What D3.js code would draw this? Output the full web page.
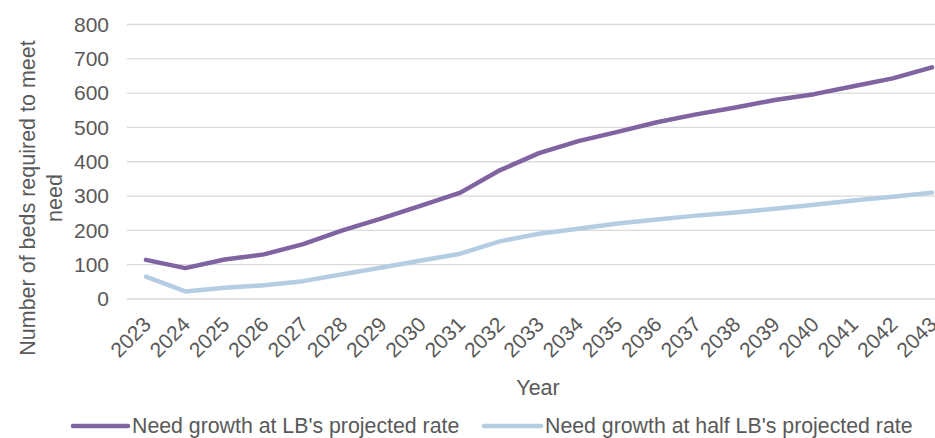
<!doctype html>
<html>
  <head>
    <script src="https://cdnjs.cloudflare.com/ajax/libs/d3/7.8.5/d3.min.js"></script>
    <style>
      body { margin: 0; background: #fff; }
      svg { font-family: "Liberation Sans", Arial, sans-serif; }
      .grid line { stroke: #d9d9d9; stroke-width: 1.3; }
      .tick text { fill: #595959; font-size: 21px; }
      text.title { fill: #595959; font-size: 21.5px; }
      text.legend { fill: #595959; font-size: 21.3px; }
    </style>
  </head>
  <body>
    <svg width="935" height="438"></svg>
    <script>
      var years = d3.range(2023, 2044).map(String);
      var fullRate = [114, 90, 115, 130, 160, 200, 235, 272, 310, 375, 425, 460, 487, 515, 538, 558, 580, 597, 620, 643, 675];
      var halfRate = [65, 22, 33, 40, 52, 72, 92, 112, 132, 168, 190, 205, 220, 232, 243, 252, 263, 275, 287, 298, 310];
      var yTicks = [0, 100, 200, 300, 400, 500, 600, 700, 800];
      var seriesNames = ["Need growth at LB's projected rate", "Need growth at half LB's projected rate"];
      var seriesColors = ["#8064a2", "#b4cde3"];

      var svg = d3.select("svg");

      var x = d3.scalePoint()
        .domain(years)
        .range([146, 932]);

      var y = d3.scaleLinear()
        .domain([0, 800])
        .range([299, 24.5]);

      // gridlines
      svg.append("g")
        .attr("class", "grid")
        .selectAll("line").data(yTicks)
        .enter().append("line")
          .attr("x1", 127)
          .attr("x2", 935)
          .attr("y1", d => y(d))
          .attr("y2", d => y(d));

      // y axis
      var yAxis = svg.append("g")
        .attr("transform", "translate(109,0)")
        .call(d3.axisLeft(y).tickValues(yTicks).tickSize(0).tickPadding(0));
      yAxis.select(".domain").remove();

      // x axis - labels rotated about their centre
      var xAxis = svg.append("g")
        .call(d3.axisBottom(x).tickSize(0).tickPadding(0));
      xAxis.select(".domain").remove();
      xAxis.selectAll("text")
        .style("text-anchor", "middle")
        .attr("y", 0)
        .attr("dy", "0.35em")
        .attr("transform", "translate(-16,337) rotate(-45)");

      // lines
      var line = d3.line()
        .x((d, i) => x(years[i]))
        .y(d => y(d));

      [halfRate, fullRate].forEach(function (vals, k) {
        svg.append("path")
          .datum(vals)
          .attr("fill", "none")
          .attr("stroke", seriesColors[1 - k])
          .attr("stroke-width", 4.5)
          .attr("stroke-linejoin", "round")
          .attr("stroke-linecap", "round")
          .attr("d", line);
      });

      // axis titles
      svg.append("text")
        .attr("class", "title")
        .attr("text-anchor", "middle")
        .attr("transform", "translate(35,198) rotate(-90)")
        .text("Number of beds required to meet");
      svg.append("text")
        .attr("class", "title")
        .attr("text-anchor", "middle")
        .attr("transform", "translate(62,198) rotate(-90)")
        .text("need");

      svg.append("text")
        .attr("class", "title")
        .attr("x", 538)
        .attr("y", 395)
        .attr("text-anchor", "middle")
        .text("Year");

      // legend
      var legendPos = [[73, 128], [484, 541]];
      seriesNames.forEach(function (name, i) {
        svg.append("line")
          .attr("x1", legendPos[i][0])
          .attr("x2", legendPos[i][1])
          .attr("y1", 426)
          .attr("y2", 426)
          .attr("stroke", seriesColors[i])
          .attr("stroke-linecap", "round")
          .attr("stroke-width", 4.5);
        svg.append("text")
          .attr("class", "legend")
          .attr("x", legendPos[i][1] + 4)
          .attr("y", 433)
          .text(name);
      });
    </script>
  </body>
</html>
